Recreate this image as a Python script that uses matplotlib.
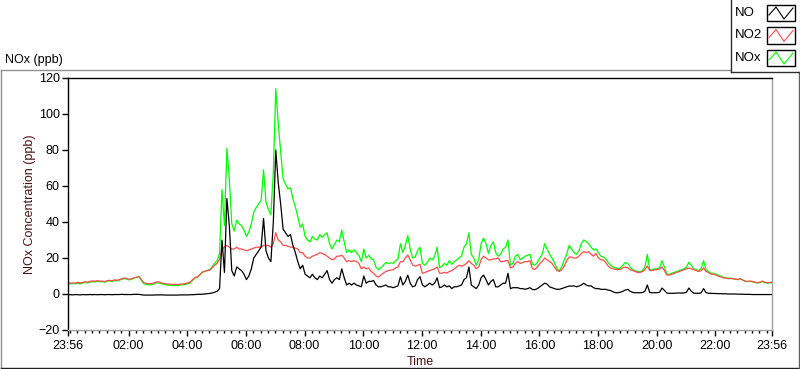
import matplotlib
matplotlib.use("Agg")
import matplotlib.pyplot as plt
import matplotlib.dates as mdates
from matplotlib.lines import Line2D
from matplotlib.patches import Rectangle
import pandas as pd

plt.rcParams["font.family"] = ["Liberation Sans", "DejaVu Sans"]

W, H = 800, 369

# 5 minute readings from 23:56 to 23:56 the next day (ppb)
no = [
    -0.3, -0.4, -0.5, -0.3, -0.4, -0.5, -0.3, -0.4, -0.4, -0.3, -0.4, -0.3,
    -0.4, -0.3, -0.3, -0.4, -0.3, -0.3, -0.4, -0.3, -0.3, -0.3, -0.2, -0.3,
    -0.3, -0.3, -0.3, -0.2, -0.2, -0.2, -0.4, -0.6, -0.6, -0.6, -0.6, -0.6,
    -0.5, -0.5, -0.5, -0.5, -0.6, -0.6, -0.6, -0.6, -0.6, -0.6, -0.5, -0.5,
    -0.5, -0.5, -0.4, -0.4, -0.3, -0.2, -0.2, -0.1, 0.0, 0.2, 0.3, 0.6,
    1.0, 1.5, 3.0, 30, 12, 53, 38, 13, 10, 15, 14, 13,
    11, 8, 10, 14, 20, 22, 24, 26, 42, 24, 20, 18,
    40, 80, 62, 50, 36, 34, 32, 33, 27, 23, 18, 14,
    16, 11, 10, 9, 11, 9, 8, 10, 9, 11, 13, 8,
    6, 8, 9, 8, 14, 9, 5, 6, 5, 6, 5, 4.5,
    4, 10, 6, 7, 7, 7.5, 5, 4, 4, 4.5, 5, 4,
    4, 3.5, 4, 4.5, 9.6, 5, 7, 10.5, 6, 4, 4.5, 8,
    9.6, 5, 4, 5, 6, 5, 6, 9, 3.5, 4, 5, 4,
    4.5, 3, 4, 4, 4.5, 5, 8, 9, 15, 5, 4, 3,
    5, 9, 10.5, 8, 5, 7, 8, 4, 4, 5, 6, 6,
    11.5, 3, 3.5, 3.5, 3.5, 3, 3, 2.6, 3, 3.5, 2.5, 2.4,
    3, 4, 5, 6, 5.5, 4, 3.5, 3, 2.6, 2.6, 3, 3.5,
    4, 4.4, 4.4, 4.5, 4, 4.4, 5, 6, 5, 4.5, 4.5, 3.5,
    3, 3, 2.6, 2.6, 2.6, 2.2, 1.9, 1.2, 0.7, 0.7, 1.0, 1.5,
    2.2, 2.6, 1.5, 0.9, 0.7, 0.7, 0.7, 0.8, 1.5, 5, 0.8, 0.7,
    0.7, 0.7, 1.0, 3.3, 2, 0.5, 0.4, 0.4, 0.4, 0.5, 0.6, 0.5,
    0.6, 1.0, 3.3, 1.5, 0.5, 0.4, 0.4, 0.6, 3, 0.8, 0.4, 0.4,
    0.3, 0.3, 0.2, 0.2, 0.1, 0.1, 0.0, 0.0, 0.0, 0.0, -0.1, -0.1,
    -0.1, -0.2, -0.2, -0.2, -0.3, -0.3, -0.3, -0.3, -0.3, -0.3, -0.3, -0.3,
    -0.3,
]
no2 = [
    6.3, 6.0, 6.2, 6.0, 6.4, 6.1, 6.5, 6.8, 6.6, 7.0, 7.3, 7.0,
    7.4, 7.1, 7.2, 6.9, 7.4, 7.6, 7.3, 7.9, 7.6, 8.0, 8.4, 8.9,
    8.6, 8.1, 8.5, 9.0, 9.4, 9.7, 8.0, 6.3, 5.9, 5.7, 5.8, 6.1,
    6.6, 6.8, 6.3, 5.9, 5.7, 5.5, 5.4, 5.3, 5.4, 5.2, 5.5, 5.6,
    5.8, 6.2, 6.6, 8.0, 9.2, 9.5, 10.8, 12.2, 12.6, 13.0, 13.2, 14.6,
    16.0, 17.0, 19.5, 25, 26, 27, 26, 25, 25, 26, 25, 25,
    24.5, 24, 24.5, 25, 25.5, 26, 26, 26, 27, 27, 27, 26,
    28, 34, 30, 29, 27, 27, 26.5, 26, 26, 25.5, 25, 23,
    23, 21, 20, 20, 21, 21.5, 22, 23, 22.5, 22, 21, 20,
    19, 19.5, 21, 21, 21.5, 20, 18, 18.5, 18, 18.5, 18, 17,
    14, 15, 14, 14.5, 12.5, 11.5, 10, 9.4, 10.5, 11.6, 12.5, 13,
    13.3, 13.5, 14.5, 15, 18, 18, 20, 21.7, 19, 16, 15.5, 16,
    16.5, 11.5, 12, 12.5, 13, 13.5, 14, 15, 11.5, 11.6, 12, 11.6,
    12.5, 13, 14, 15, 16, 15.5, 16, 17, 18.5, 17, 16, 14,
    15, 19, 21, 20, 19, 19, 19.5, 19.5, 20, 18, 18, 18.5,
    18.5, 14.5, 15, 17, 18, 17, 17.5, 18, 18, 18.5, 14, 13.7,
    15, 17, 18, 20, 19, 18, 17, 15, 13, 12.5, 13.5, 15.5,
    18.5, 20.5, 20.5, 20, 20, 21, 22.5, 23.5, 23, 23.5, 22, 21,
    22.5, 20, 19, 18.9, 17.5, 15.5, 14.4, 14, 13.7, 13.5, 13.7, 14.5,
    15, 14.5, 13.5, 13, 12.5, 12, 12, 12.5, 13.5, 15.6, 13, 13,
    13.5, 13.5, 14, 15, 13, 10.5, 10.5, 11, 11.5, 12, 12.5, 13,
    13.5, 14, 14.4, 14, 13.5, 13, 12.5, 13, 14.5, 12.5, 12, 11,
    11, 10.5, 10, 9.5, 9, 8.8, 8.5, 8.6, 8.5, 8.3, 8, 8.5,
    7.8, 7.2, 7.0, 7.2, 7, 6.6, 6.3, 6.5, 7.2, 6.6, 6.3, 6.4,
    6.5,
]
nox = [
    6.0, 5.6, 5.8, 5.7, 6.0, 5.6, 6.1, 6.4, 6.2, 6.6, 6.9, 6.7,
    7.0, 6.8, 6.9, 6.5, 7.1, 7.3, 6.9, 7.5, 7.3, 7.7, 8.1, 8.6,
    8.3, 7.8, 8.2, 8.8, 9.2, 9.5, 7.6, 5.7, 5.3, 5.1, 5.2, 5.5,
    6.1, 6.3, 5.8, 5.4, 5.1, 4.9, 4.8, 4.7, 4.8, 4.6, 5.0, 5.1,
    5.3, 5.7, 6.2, 7.6, 8.9, 9.3, 10.6, 12.1, 12.6, 13.2, 13.5, 15.2,
    17.0, 18.5, 22.5, 58, 38, 81, 64, 39, 35, 41, 39, 38,
    35.5, 32, 34.5, 39, 45.5, 48, 50, 52, 69, 51, 47, 44,
    68, 114, 95, 79, 64, 61, 58.5, 59, 53, 48.5, 43, 37,
    39, 32, 30, 29, 32, 30.5, 30, 33, 31.5, 33, 34, 28,
    25, 27.5, 30, 29, 35.5, 29, 23, 24.5, 23, 24.5, 23, 21.5,
    18, 25, 20, 21.5, 19.5, 19, 15, 13.4, 14.5, 16, 17.5, 17,
    17.3, 17, 18.5, 19.5, 28, 23, 27, 32.5, 25, 20, 20.5, 24,
    26, 17, 16, 17.5, 20, 19, 21, 26, 14.5, 15.5, 17, 16,
    18.5, 16.5, 18, 19, 20, 21, 26, 28, 34, 22, 20, 16,
    19, 28, 31, 28, 22.5, 27, 29, 23, 21, 22, 25, 26,
    30, 16, 17, 21, 22, 19, 20, 21, 21.5, 22, 16.5, 16,
    17.5, 20, 22, 28, 25, 22, 20, 17.5, 14, 13, 15, 19,
    22, 27, 25, 23, 22, 24, 28, 30, 29, 28, 26, 24.5,
    25, 23, 21, 20.5, 19.5, 17.5, 16, 15, 14.5, 14, 14.5, 16,
    17.5, 17, 15, 13.5, 13, 12.5, 12.4, 13, 15, 22, 13.5, 13.5,
    14, 14, 14.5, 18.5, 15, 11, 11, 11.5, 12, 12.5, 13, 13.5,
    14, 15, 17.6, 16, 14, 13.5, 13, 14, 18.5, 13.5, 12.5, 11.5,
    11.5, 11, 10.5, 10, 9.3, 9, 8.8, 8.8, 8.5, 8.3, 8, 8.5,
    7.8, 7.0, 6.9, 7, 6.8, 6.4, 6.1, 6.3, 7.0, 6.3, 6.0, 6.2,
    6.2,
]

names = ["NO", "NO2", "NOx"]
colors = ["#000000", "#ff4b4b", "#00ff00"]
tick_labels = ["23:56", "02:00", "04:00", "06:00", "08:00", "10:00", "12:00",
               "14:00", "16:00", "18:00", "20:00", "22:00", "23:56"]

times = pd.date_range("2013-05-01 23:56", periods=len(no), freq="5min")
t0, t1 = times[0], times[-1]
major = [t0] + list(pd.date_range("2013-05-02 02:00", periods=11, freq="2h")) + [t1]
minor = pd.date_range("2013-05-02 00:00", "2013-05-02 23:45", freq="15min")


def fx(x):
    return x / W


def fy(y):
    return 1 - y / H


fig = plt.figure(figsize=(W / 100, H / 100), dpi=100)
ax = fig.add_axes([fx(68), fy(330), (772 - 68) / W, (330 - 78) / H])

series = {"NO": no, "NO2": no2, "NOx": nox}
# green underneath, black on top
for name, col, z in zip(names, colors, [3, 2, 1]):
    ax.plot(times, series[name], color=col, lw=0.9, zorder=z)

ax.set_xlim(t0, t1)
ax.set_ylim(-20, 120)
ax.set_yticks(range(-20, 121, 20))
ax.set_xticks(mdates.date2num(major))
ax.set_xticklabels(tick_labels)
ax.set_xticks(mdates.date2num(minor), minor=True)

ax.tick_params(axis="both", which="major", length=4, width=1, colors="black",
               labelsize=9, pad=3)
ax.tick_params(axis="x", which="minor", length=2.5, width=1, color="black")
ax.tick_params(axis="y", pad=2)

for side in ["left", "top"]:
    ax.spines[side].set_color("black")
    ax.spines[side].set_linewidth(1)
for side in ["right", "bottom"]:
    ax.spines[side].set_color("#a0a0a0")
    ax.spines[side].set_linewidth(1)

ax.set_ylabel("NOx Concentration (ppb)", fontsize=9, color="#4a1010")
ax.yaxis.set_label_coords(-0.045, 0.5)
ax.set_xlabel("Time", fontsize=9, color="#4a1010")
ax.xaxis.set_label_coords(0.5, -0.105)

fig.text(fx(5), fy(60), "NOx (ppb)", fontsize=9, va="center", ha="left")

# outer frame of the graph panel
frame = "#909090"
fig.add_artist(Line2D([fx(0.5), fx(730)], [fy(69.5), fy(69.5)], transform=fig.transFigure, color=frame, lw=1))
fig.add_artist(Line2D([fx(0.5), fx(0.5)], [fy(69.5), fy(368)], transform=fig.transFigure, color=frame, lw=1))
fig.add_artist(Line2D([fx(0.5), fx(799)], [fy(368), fy(368)], transform=fig.transFigure, color="#202020", lw=1))
fig.add_artist(Line2D([fx(798.5), fx(798.5)], [fy(72), fy(368)], transform=fig.transFigure, color="#606060", lw=1))

# legend panel
fig.add_artist(Line2D([fx(730.5), fx(730.5)], [fy(0), fy(72)], transform=fig.transFigure, color="#303030", lw=1))
fig.add_artist(Line2D([fx(730.5), fx(799)], [fy(72), fy(72)], transform=fig.transFigure, color="#303030", lw=1))
for k, (name, col) in enumerate(zip(names, colors)):
    top = 5 + k * 22.5
    fig.text(fx(735), fy(top + 8), name, fontsize=9.5, va="center", ha="left")
    fig.add_artist(Rectangle((fx(767), fy(top + 16)), 28 / W, 16 / H, transform=fig.transFigure,
                             facecolor="white", edgecolor="black", lw=1))
    xs = [769, 776, 784, 793]
    ys = [top + 10, top + 2, top + 14, top + 3]
    fig.add_artist(Line2D([fx(v) for v in xs], [fy(v) for v in ys], transform=fig.transFigure,
                          color=col, lw=0.8))

fig.savefig("out.png", dpi=100)
